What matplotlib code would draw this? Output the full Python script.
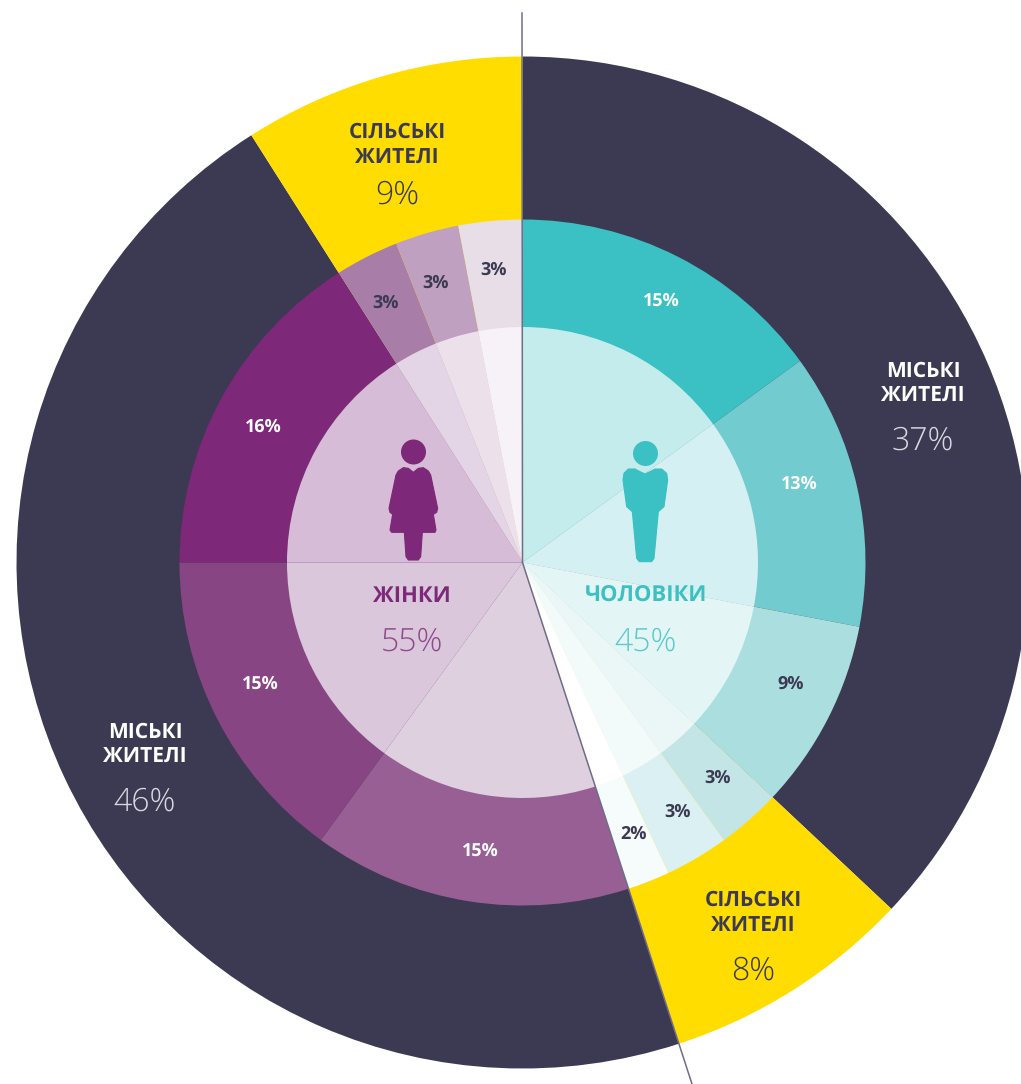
import matplotlib
matplotlib.use("Agg")
import matplotlib.pyplot as plt
from matplotlib.patches import Circle, Polygon

plt.rcParams['font.family'] = ['Open Sans', 'DejaVu Sans']
plt.rcParams['text.hinting'] = 'no_hinting'
plt.rcParams['text.hinting_factor'] = 1

# outer ring: men urban, men rural, women urban, women rural
outer_values = [37, 8, 46, 9]
outer_colors = ["#3b3a52", "#ffdd00", "#3b3a52", "#ffdd00"]

# middle and inner rings share the same split, clockwise from the top
ring_values = [15, 13, 9, 3, 3, 2, 15, 15, 16, 3, 3, 3]
ring_labels = ["15%", "13%", "9%", "3%", "3%", "2%", "15%", "15%", "16%", "3%", "3%", "3%"]
middle_colors = ["#3bc0c4", "#71cbcf", "#abdede", "#c3e5e6", "#dbf0f2", "#f6fbfc",
                 "#985f95", "#884583", "#7d2878", "#a87da8", "#c0a0c0", "#e7dee8"]
inner_colors = ["#c4ecec", "#d5f0f2", "#e3f5f5", "#ebf7f7", "#f3fafa", "#fefffe",
                "#dfd0e0", "#dac7dc", "#d7bcd8", "#e3d5e5", "#ece1eb", "#f6f2f7"]

WIDTH, HEIGHT = 1021, 1084
CX, CY = 522.5, 562.5
DARK = "#3b3a52"
PURPLE = "#7d2878"
TEAL = "#3bc0c4"


def px(x, y):
    # picture pixels to data coordinates, centre of the pie is the origin
    return x - CX, CY - y


fig = plt.figure(figsize=(WIDTH / 100, HEIGHT / 100), dpi=100)
ax = fig.add_axes([0, 0, 1, 1])

ax.pie(outer_values, colors=outer_colors, radius=506, startangle=90, counterclock=False)
ax.pie(ring_values, colors=middle_colors, radius=343, startangle=90, counterclock=False)
ax.pie(ring_values, colors=inner_colors, radius=235.5, startangle=90, counterclock=False)

ax.set_xlim(-CX, WIDTH - CX)
ax.set_ylim(CY - HEIGHT, CY)
ax.set_aspect("equal")
ax.axis("off")

# axis line through the centre
ax.plot(*zip(px(522, 13), px(522.5, 562.5), px(692, 1084)), color="#6f6d88", lw=1.1, zorder=3)

# ring labels
label_pos = [(661, 301), (799, 484), (791, 684), (718, 778), (678, 812), (634, 834),
             (480, 851), (260, 684), (263, 427), (386, 303), (436, 283), (494, 270)]
for i, lab in enumerate(ring_labels):
    col = "white" if i in (0, 1, 6, 7, 8) else DARK
    x, y = px(*label_pos[i])
    ax.text(x, y, lab, color=col, fontsize=12.8, fontweight="bold", ha="center", va="center", zorder=4)


def block(x, y, title, value, col_title, col_value, gap=26, vgap=38, size=15):
    for j, line in enumerate(title):
        tx, ty = px(x, y + j * gap)
        ax.text(tx, ty, line, color=col_title, fontsize=size, fontweight="bold", ha="center", va="center", zorder=4)
    tx, ty = px(x, y + (len(title) - 1) * gap + vgap)
    ax.text(tx, ty, value, color=col_value, fontsize=23, fontweight=300, ha="center", va="center", zorder=4)


block(923, 371, ["МІСЬКІ", "ЖИТЕЛІ"], "37%", "white", "#d8d8e0", gap=25, vgap=45)
block(145, 732, ["МІСЬКІ", "ЖИТЕЛІ"], "46%", "white", "#d8d8e0", gap=25, vgap=45)
block(397, 132, ["СІЛЬСЬКІ", "ЖИТЕЛІ"], "9%", DARK, DARK, vgap=37)
block(753, 900, ["СІЛЬСЬКІ", "ЖИТЕЛІ"], "8%", DARK, DARK, vgap=45)
block(412, 596, ["ЖІНКИ"], "55%", PURPLE, "#8f4a8c", vgap=46, size=15.7)
block(646, 596, ["ЧОЛОВІКИ"], "45%", TEAL, "#5cc9cc", vgap=46, size=15.7)


def icon(points, left, top):
    return [px(a / 3 + left, b / 3 + top) for a, b in points]


# woman icon
ax.add_patch(Circle(px(413.5, 452), 12.5, color=PURPLE, lw=0, zorder=4))
woman = [(130, 142), (115, 130), (100, 128), (85, 138), (78, 150), (57, 250), (60, 262), (68, 268),
         (60, 315), (65, 322), (103, 322), (108, 395), (115, 405), (145, 405), (152, 395), (157, 322),
         (195, 322), (198, 315), (190, 268), (200, 262), (203, 250), (182, 150), (175, 138), (160, 128),
         (145, 130)]
ax.add_patch(Polygon(icon(woman, 370, 425), closed=True, fc=PURPLE, ec=PURPLE, lw=0.8, joinstyle="round", zorder=4))

# man icon
ax.add_patch(Circle(px(645.5, 453.5), 12.5, color=TEAL, lw=0, zorder=4))
man = [(135, 132), (120, 125), (105, 117), (85, 117), (72, 130), (69, 150), (80, 230), (97, 245),
       (110, 385), (118, 395), (155, 395), (162, 385), (175, 245), (192, 230), (203, 150), (200, 130),
       (185, 117), (165, 117), (150, 125)]
ax.add_patch(Polygon(icon(man, 600, 430), closed=True, fc=TEAL, ec=TEAL, lw=0.8, joinstyle="round", zorder=4))

fig.savefig("out.png", dpi=100)
